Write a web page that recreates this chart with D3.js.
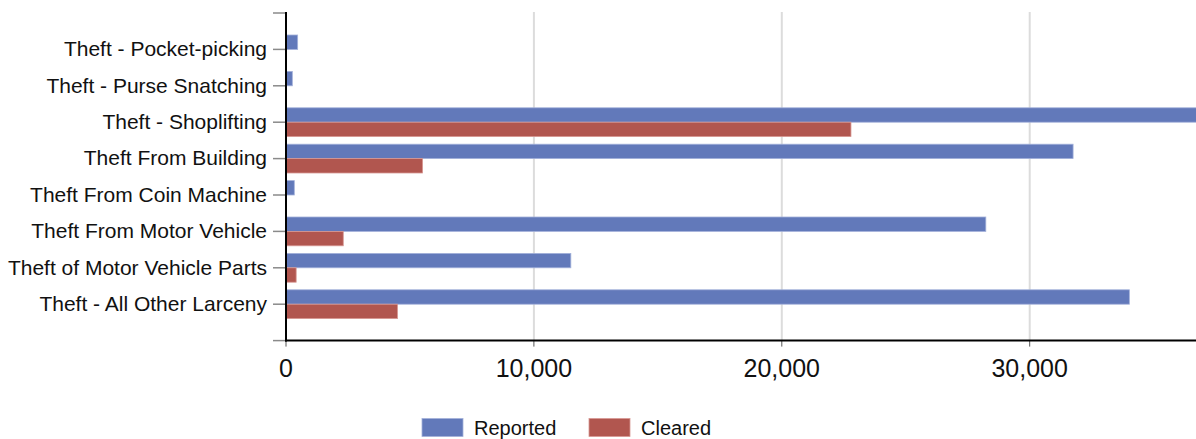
<!DOCTYPE html>
<meta charset="utf-8">
<style>
body { margin: 0; background: #fff; }
svg { font-family: "Liberation Sans", Arial, sans-serif; }
.grid line { stroke: #dcdcdc; stroke-width: 2px; }
.ylab { font-size: 21px; fill: #111; }
.xlab { font-size: 25px; fill: #111; }
.legend text { font-size: 20px; fill: #111; }
</style>
<svg width="1196" height="439"></svg>
<script src="https://d3js.org/d3.v7.min.js"></script>
<script>

// categories and values
var categories = [
  "Theft - Pocket-picking",
  "Theft - Purse Snatching",
  "Theft - Shoplifting",
  "Theft From Building",
  "Theft From Coin Machine",
  "Theft From Motor Vehicle",
  "Theft of Motor Vehicle Parts",
  "Theft - All Other Larceny"
];
var reported = [470, 255, 37800, 31750, 335, 28230, 11490, 34020];
var cleared  = [10, 5, 22790, 5510, 5, 2310, 410, 4500];
var seriesNames = ["Reported", "Cleared"];
var colors = ["#6279ba", "#b1564f"];
var strokes = ["#a3b1da", "#d79893"];
var xTicks = [0, 10000, 20000, 30000];

var svg = d3.select("svg"),
    W = +svg.attr("width");

var plotLeft = 286, plotTop = 13, plotBottom = 340.6;

var x = d3.scaleLinear().domain([0, 40000]).range([plotLeft, plotLeft + 991.6]);
var y = d3.scaleBand().domain(categories).range([plotTop, plotBottom])
    .paddingInner(0).paddingOuter(0.5);
var barH = 14.4;

svg.append("clipPath").attr("id", "plot")
  .append("rect").attr("x", plotLeft).attr("y", 0).attr("width", W - plotLeft).attr("height", 360);

// gridlines
svg.append("g").attr("class", "grid")
  .selectAll("line").data(xTicks.slice(1))
  .enter().append("line")
    .attr("x1", function(d) { return x(d); })
    .attr("x2", function(d) { return x(d); })
    .attr("y1", plotTop - 1)
    .attr("y2", plotBottom);

// bars
var rows = categories.map(function(c, i) { return {cat: c, vals: [reported[i], cleared[i]]}; });
var g = svg.append("g").attr("clip-path", "url(#plot)");
rows.forEach(function(r) {
  var cy = y(r.cat) + y.bandwidth() / 2;
  r.vals.forEach(function(v, k) {
    g.append("rect")
      .attr("x", x(0))
      .attr("y", cy - barH + k * barH)
      .attr("width", Math.max(0, x(v) - x(0)))
      .attr("height", barH)
      .attr("fill", colors[k])
      .attr("stroke", strokes[k])
      .attr("stroke-width", 0.8);
  });
});

// y ticks (centers and ends)
var yTickPos = [plotTop].concat(categories.map(function(c) { return y(c) + y.bandwidth() / 2; }), [plotBottom]);
svg.append("g").selectAll("line").data(yTickPos)
  .enter().append("line")
    .attr("x1", 273).attr("x2", plotLeft)
    .attr("y1", function(d) { return d; })
    .attr("y2", function(d) { return d; })
    .attr("stroke", "#8a8a8a").attr("stroke-width", 1.5);

svg.append("g").selectAll("text").data(categories)
  .enter().append("text")
    .attr("class", "ylab")
    .attr("x", 267)
    .attr("y", function(d) { return y(d) + y.bandwidth() / 2; })
    .attr("dy", "0.32em")
    .attr("text-anchor", "end")
    .text(function(d) { return d; });

// x ticks and labels
var fmt = d3.format(",");
svg.append("g").selectAll("line").data(xTicks)
  .enter().append("line")
    .attr("x1", function(d) { return x(d); })
    .attr("x2", function(d) { return x(d); })
    .attr("y1", plotBottom).attr("y2", plotBottom + 6)
    .attr("stroke", "#555").attr("stroke-width", 1);

svg.append("g").selectAll("text").data(xTicks)
  .enter().append("text")
    .attr("class", "xlab")
    .attr("x", function(d) { return x(d); })
    .attr("y", 377)
    .attr("text-anchor", "middle")
    .text(function(d) { return fmt(d); });

// axis lines
svg.append("line")
  .attr("x1", plotLeft).attr("x2", plotLeft)
  .attr("y1", 12).attr("y2", plotBottom + 1)
  .attr("stroke", "#000").attr("stroke-width", 2);
svg.append("line")
  .attr("x1", plotLeft - 1).attr("x2", W)
  .attr("y1", plotBottom).attr("y2", plotBottom)
  .attr("stroke", "#000").attr("stroke-width", 2);

// legend
var legendX = [422, 589];
var legend = svg.append("g").attr("class", "legend");
seriesNames.forEach(function(name, k) {
  legend.append("rect")
    .attr("x", legendX[k]).attr("y", 418.5)
    .attr("width", 41).attr("height", 18)
    .attr("fill", colors[k]).attr("stroke", strokes[k]).attr("stroke-width", 0.8);
  legend.append("text")
    .attr("x", legendX[k] + 52).attr("y", 434.5)
    .text(name);
});
</script>
